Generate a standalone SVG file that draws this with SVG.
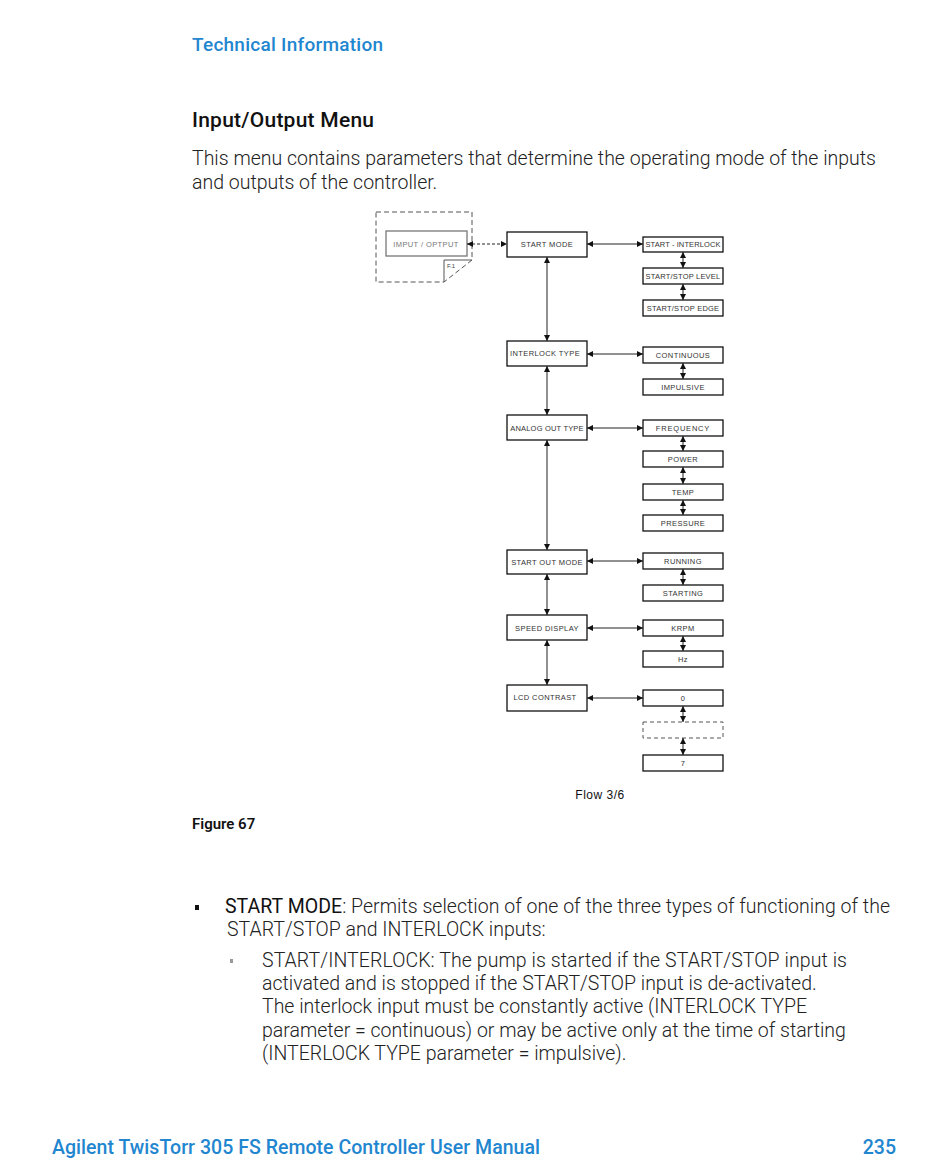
<svg xmlns="http://www.w3.org/2000/svg" width="950" height="1161" viewBox="0 0 950 1161">
<defs>
<style>
.pg{font-family:Roboto,"Liberation Sans",sans-serif;}
.hd{fill:#1f86cf;font-weight:500;font-size:19px;}
.t1{fill:#111;font-weight:500;font-size:21px;}
.bd{fill:#222;font-weight:300;font-size:19.5px;}
.bx{fill:#fff;stroke:#111;stroke-width:1.3;}
.lb{font-family:"Liberation Sans",Arial,sans-serif;font-size:7.5px;fill:#333;text-anchor:middle;letter-spacing:0.4px;}
.ln{stroke:#222;stroke-width:1;fill:none;}
</style>
<marker id="ah" viewBox="0 0 10 10" refX="10" refY="5" markerWidth="7" markerHeight="6" markerUnits="userSpaceOnUse" orient="auto-start-reverse">
<path d="M0,0 L10,5 L0,10 z" fill="#111"/>
</marker>
</defs>
<rect width="950" height="1161" fill="#fff"/>
<g class="pg">
<text class="hd" x="192" y="51" textLength="191">Technical Information</text>
<text class="t1" x="192" y="127" textLength="182">Input/Output Menu</text>
<text class="bd" x="192" y="165" textLength="684">This menu contains parameters that determine the operating mode of the inputs</text>
<text class="bd" x="192" y="189">and outputs of the controller.</text>
</g>
<g id="page-icon">
<path d="M376,212 H472 V260 L444,282 H376 Z" fill="none" stroke="#555" stroke-width="1" stroke-dasharray="5,3"/>
<path d="M444,282 V260 H472" fill="none" stroke="#555" stroke-width="1"/>
<text x="447" y="268" font-family="Liberation Sans,Arial,sans-serif" font-size="6" fill="#444">F.1</text>
</g>
<g id="n-imput">
<rect x="386" y="231" width="81" height="25" fill="#fff" stroke="#777" stroke-width="1.3"/>
<text class="lb" x="426" y="246.5" style="fill:#777">IMPUT / OPTPUT</text>
</g>
<g id="n-startmode"><rect class="bx" x="507" y="232" width="80" height="25"/><text class="lb" x="547" y="247">START MODE</text></g>
<g id="n-interlocktype"><rect class="bx" x="507" y="341" width="80" height="25"/><text class="lb" x="545" y="356">INTERLOCK TYPE</text></g>
<g id="n-analog"><rect class="bx" x="507" y="415" width="80" height="25"/><text class="lb" x="547" y="430.5" style="letter-spacing:0.2px">ANALOG OUT  TYPE</text></g>
<g id="n-startout"><rect class="bx" x="507" y="550" width="80" height="24"/><text class="lb" x="547" y="565">START OUT MODE</text></g>
<g id="n-speed"><rect class="bx" x="507" y="615" width="80" height="25"/><text class="lb" x="547" y="630.5">SPEED DISPLAY</text></g>
<g id="n-lcd"><rect class="bx" x="507" y="685" width="80" height="26"/><text class="lb" x="545" y="700">LCD CONTRAST</text></g>
<g id="n-si"><rect class="bx" x="643" y="237" width="80" height="15"/><text class="lb" x="683" y="247" style="letter-spacing:0.1px">START - INTERLOCK</text></g>
<g id="n-ssl"><rect class="bx" x="643" y="268" width="80" height="16"/><text class="lb" x="683" y="279" style="letter-spacing:0.2px">START/STOP LEVEL</text></g>
<g id="n-sse"><rect class="bx" x="643" y="300" width="80" height="16"/><text class="lb" x="683" y="311" style="letter-spacing:0.2px">START/STOP EDGE</text></g>
<g id="n-cont"><rect class="bx" x="643" y="347" width="80" height="16"/><text class="lb" x="683" y="358">CONTINUOUS</text></g>
<g id="n-imp"><rect class="bx" x="643" y="379" width="80" height="16"/><text class="lb" x="683" y="390">IMPULSIVE</text></g>
<g id="n-freq"><rect class="bx" x="643" y="420" width="80" height="16"/><text class="lb" x="683" y="431" style="letter-spacing:0.8px">FREQUENCY</text></g>
<g id="n-power"><rect class="bx" x="643" y="451" width="80" height="16"/><text class="lb" x="683" y="462">POWER</text></g>
<g id="n-temp"><rect class="bx" x="643" y="484" width="80" height="16"/><text class="lb" x="683" y="495">TEMP</text></g>
<g id="n-press"><rect class="bx" x="643" y="515" width="80" height="16"/><text class="lb" x="683" y="526">PRESSURE</text></g>
<g id="n-run"><rect class="bx" x="643" y="553" width="80" height="16"/><text class="lb" x="683" y="564">RUNNING</text></g>
<g id="n-starting"><rect class="bx" x="643" y="585" width="80" height="16"/><text class="lb" x="683" y="596">STARTING</text></g>
<g id="n-krpm"><rect class="bx" x="643" y="620" width="80" height="16"/><text class="lb" x="683" y="631">KRPM</text></g>
<g id="n-hz"><rect class="bx" x="643" y="651" width="80" height="16"/><text class="lb" x="683" y="662">Hz</text></g>
<g id="n-0"><rect class="bx" x="643" y="690" width="80" height="16"/><text class="lb" x="683" y="701">0</text></g>
<g id="n-dots"><rect x="643" y="722" width="80" height="16" fill="#fff" stroke="#555" stroke-width="1" stroke-dasharray="4,3"/></g>
<g id="n-7"><rect class="bx" x="643" y="755" width="80" height="16"/><text class="lb" x="683" y="766">7</text></g>
<g id="connectors" class="ln" marker-start="url(#ah)" marker-end="url(#ah)">
<line x1="467" y1="244" x2="507" y2="244" stroke-dasharray="3,2"/>
<line x1="587" y1="244" x2="643" y2="244"/>
<line x1="587" y1="354" x2="643" y2="354"/>
<line x1="587" y1="428" x2="643" y2="428"/>
<line x1="587" y1="561" x2="643" y2="561"/>
<line x1="587" y1="628" x2="643" y2="628"/>
<line x1="587" y1="698" x2="643" y2="698"/>
<line x1="547" y1="257" x2="547" y2="341"/>
<line x1="547" y1="366" x2="547" y2="415"/>
<line x1="547" y1="440" x2="547" y2="550"/>
<line x1="547" y1="574" x2="547" y2="615"/>
<line x1="547" y1="640" x2="547" y2="685"/>
<line x1="683" y1="252" x2="683" y2="268"/>
<line x1="683" y1="284" x2="683" y2="300"/>
<line x1="683" y1="363" x2="683" y2="379"/>
<line x1="683" y1="436" x2="683" y2="451"/>
<line x1="683" y1="467" x2="683" y2="484"/>
<line x1="683" y1="500" x2="683" y2="515"/>
<line x1="683" y1="569" x2="683" y2="585"/>
<line x1="683" y1="636" x2="683" y2="651"/>
<line x1="683" y1="706" x2="683" y2="722"/>
<line x1="683" y1="738" x2="683" y2="755"/>
</g>
<text x="600" y="799" font-family="Liberation Sans,Arial,sans-serif" font-size="12" fill="#111" text-anchor="middle" letter-spacing="0.5">Flow  3/6</text>
<g class="pg">
<text x="192" y="829" font-size="15" font-weight="600" fill="#111">Figure 67</text>
<rect x="195" y="905" width="4" height="5" fill="#111"/>
<text class="bd" x="225" y="913" textLength="665"><tspan font-weight="400" fill="#111">START MODE</tspan>: Permits selection of one of the three types of functioning of the</text>
<text class="bd" x="227" y="936">START/STOP and INTERLOCK inputs:</text>
<rect x="230" y="959" width="3" height="4" fill="#999"/>
<text class="bd" x="262" y="967" textLength="585">START/INTERLOCK: The pump is started if the START/STOP input is</text>
<text class="bd" x="262" y="990">activated and is stopped if the START/STOP input is de-activated.</text>
<text class="bd" x="262" y="1013">The interlock input must be constantly active (INTERLOCK TYPE</text>
<text class="bd" x="262" y="1037">parameter = continuous) or may be active only at the time of starting</text>
<text class="bd" x="262" y="1060">(INTERLOCK TYPE parameter = impulsive).</text>
<text x="52" y="1154" font-size="19.5" font-weight="500" fill="#1f86cf" textLength="488">Agilent TwisTorr 305 FS Remote Controller User Manual</text>
<text x="896" y="1154" font-size="19.5" font-weight="500" fill="#1f86cf" text-anchor="end">235</text>
</g>
</svg>
